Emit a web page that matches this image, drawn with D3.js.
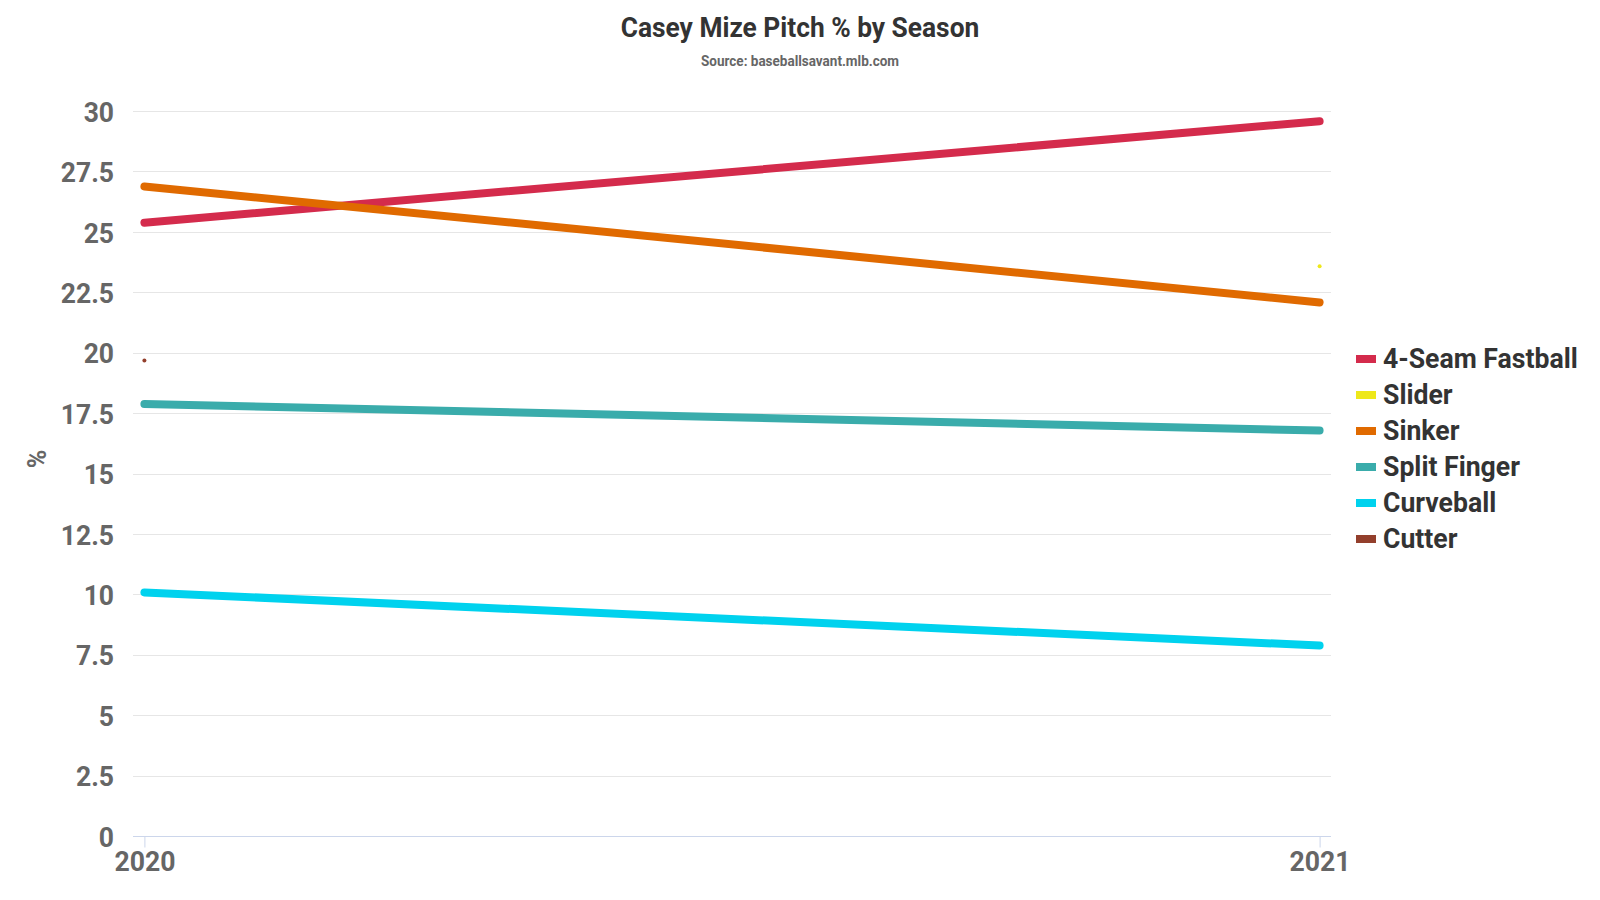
<!DOCTYPE html>
<html><head><meta charset="utf-8">
<script src="https://cdn.jsdelivr.net/npm/d3@7"></script>
<style>
body{margin:0;background:#fff;}
text{font-family:Roboto,"Liberation Sans",sans-serif;font-weight:700;}
</style></head>
<body>
<svg id="chart" width="1600" height="900"></svg>
<script>
const seasons = ["2020", "2021"];
const seriesNames = ["4-Seam Fastball", "Slider", "Sinker", "Split Finger", "Curveball", "Cutter"];
const seriesColors = ["#d42b4c", "#eee81a", "#e06a00", "#3aacab", "#00d2ee", "#933f2c"];
const fastball = [25.4, 29.6];
const slider = [null, 23.6];
const sinker = [26.9, 22.1];
const splitFinger = [17.9, 16.8];
const curveball = [10.1, 7.9];
const cutter = [19.7, null];
const yTicks = [0, 2.5, 5, 7.5, 10, 12.5, 15, 17.5, 20, 22.5, 25, 27.5, 30];

const seriesValues = [fastball, slider, sinker, splitFinger, curveball, cutter];
const svg = d3.select("#chart");
function condense(sel, f){
  sel.each(function(){
    const len = this.getComputedTextLength();
    this.setAttribute("textLength", len*f);
    this.setAttribute("lengthAdjust","spacingAndGlyphs");
  });
}

const plotLeft = 133, plotRight = 1331, plotTop = 111.5, plotBottom = 836.5;
const x = d3.scalePoint().domain(seasons).range([plotLeft, plotRight]).padding(0.0097);
const y = d3.scaleLinear().domain([0, 30]).range([plotBottom, plotTop]);

// grid
svg.append("g").selectAll("line").data(yTicks.filter(d=>d>0)).join("line")
  .attr("x1", plotLeft).attr("x2", plotRight)
  .attr("y1", d=>Math.floor(y(d))+0.5).attr("y2", d=>Math.floor(y(d))+0.5)
  .attr("stroke", "#e6e6e6").attr("stroke-width", 1);

// y axis labels
const yAxis = svg.append("g").attr("transform", `translate(${plotLeft-19},0)`)
  .call(d3.axisLeft(y).tickValues(yTicks).tickSize(0).tickPadding(0).tickFormat(d3.format("~g")));
yAxis.select(".domain").remove();
yAxis.selectAll("text").attr("font-size", 27).attr("fill", "#666").attr("dy", "0.36em")
  .style("font-family", "Roboto").style("font-weight", 700).call(condense, 0.98);

// x axis
const xAxis = svg.append("g").attr("transform", `translate(0,${Math.floor(plotBottom)+0.5})`)
  .call(d3.axisBottom(x).tickSize(11).tickPadding(4));
xAxis.select(".domain").attr("d", `M${plotLeft},0H${plotRight}`).attr("stroke", "#ccd6eb");
xAxis.selectAll(".tick line").attr("stroke", "#ccd6eb");
xAxis.selectAll("text").attr("font-size", 28).attr("fill", "#666").attr("dy", "0.71em")
  .style("font-family", "Roboto").style("font-weight", 700).call(condense, 0.95);

// y title
svg.append("text").attr("transform", "translate(37,459) rotate(-90)")
  .attr("text-anchor", "middle").attr("dominant-baseline", "central")
  .attr("font-size", 25).attr("fill", "#666").text("%");

// lines
const line = d3.line().defined(d=>d.v!=null).x(d=>x(d.s)).y(d=>y(d.v));
seriesValues.forEach((vals, i) => {
  const pts = seasons.map((s, j) => ({s, v: vals[j]}));
  const valid = pts.filter(p=>p.v!=null);
  if (valid.length > 1) {
    svg.append("path").datum(pts).attr("d", line)
      .attr("fill", "none").attr("stroke", seriesColors[i]).attr("stroke-width", 8)
      .attr("stroke-linecap", "round").attr("stroke-linejoin", "round");
  } else {
    svg.append("g").selectAll("circle").data(valid).join("circle")
      .attr("cx", d=>x(d.s)).attr("cy", d=>y(d.v)).attr("r", 2)
      .attr("fill", seriesColors[i]);
  }
});

// title
svg.append("text").attr("x", 800).attr("y", 37).attr("text-anchor", "middle")
  .attr("font-size", 28).attr("fill", "#333").text("Casey Mize Pitch % by Season").call(condense, 0.94);
svg.append("text").attr("x", 800).attr("y", 66).attr("text-anchor", "middle")
  .attr("font-size", 15).attr("fill", "#666").text("Source: baseballsavant.mlb.com").call(condense, 0.9);

// legend
const legend = svg.append("g");
const items = legend.selectAll("g").data(seriesNames).join("g")
  .attr("transform", (d,i)=>`translate(1356,${368 + i*36})`);
items.append("rect").attr("x", 0).attr("y", -13).attr("width", 20).attr("height", 8)
  .attr("fill", (d,i)=>seriesColors[i]);
items.append("text").attr("x", 27).attr("y", 0).attr("font-size", 28).attr("fill", "#333")
  .text(d=>d).call(condense, 0.95);
</script>
</body></html>
